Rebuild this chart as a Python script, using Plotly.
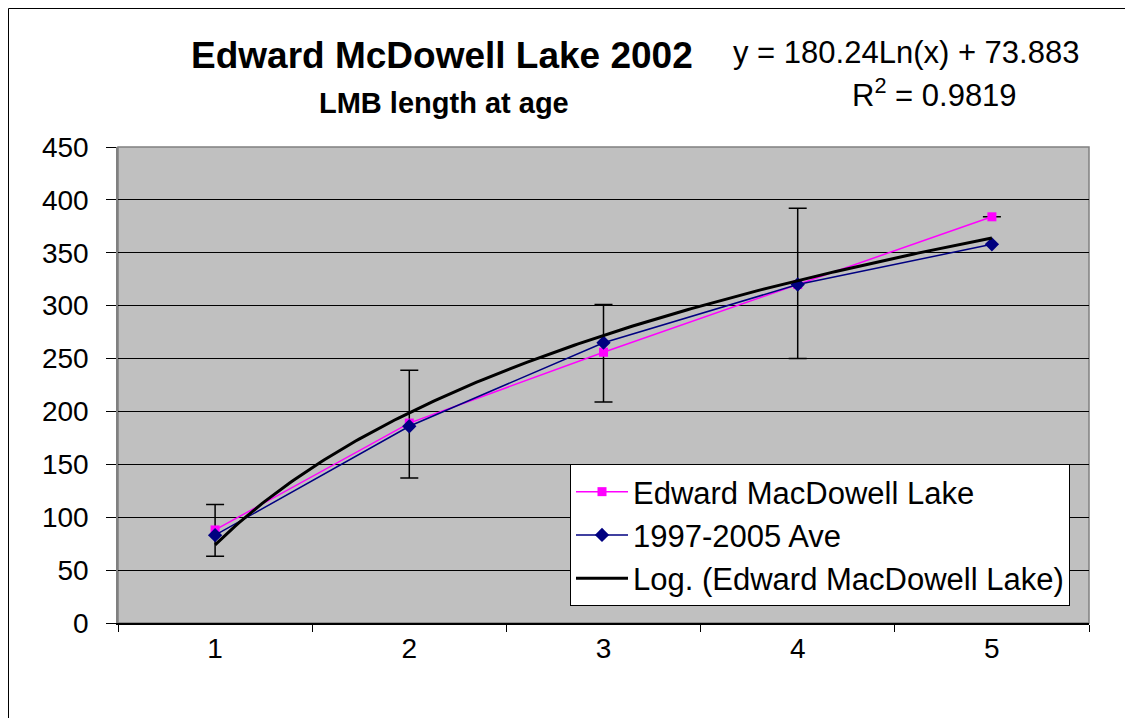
"""
Edward McDowell Lake 2002 - LMB length at age, recreated with Plotly.
"""
import numpy as np
import plotly.graph_objects as go

# data
ages = [1, 2, 3, 4, 5]
lake_2002 = [88, 189, 256, 320, 384]
ave_1997_2005 = [83, 186, 265, 320, 358]
err_plus = [24, 50, 45, 72, 0]
err_minus = [25, 52, 47, 70, 0]

# logarithmic trendline as printed on the chart
trend_a = 180.24
trend_b = 73.883
y_ticks = [0, 50, 100, 150, 200, 250, 300, 350, 400, 450]

FONT = "Liberation Sans, Arial, sans-serif"
OFF = 8  # page body margin

trend_x = np.linspace(1, 5, 200)
trend_y = trend_a * np.log(trend_x) + trend_b

fig = go.Figure()

fig.add_trace(go.Scatter(
    x=ages, y=lake_2002, mode="lines+markers",
    name="Edward MacDowell Lake",
    line=dict(color="#FF00FF", width=1.5),
    marker=dict(symbol="square", size=9, color="#FF00FF"),
    error_y=dict(type="data", array=err_plus, arrayminus=err_minus,
                 color="black", thickness=1.5, width=9),
))
fig.add_trace(go.Scatter(
    x=ages, y=ave_1997_2005, mode="lines+markers",
    name="1997-2005 Ave",
    line=dict(color="#000080", width=1.5),
    marker=dict(symbol="diamond", size=11, color="#000080"),
))
fig.add_trace(go.Scatter(
    x=trend_x, y=trend_y, mode="lines",
    name="Log. (Edward MacDowell Lake)",
    line=dict(color="black", width=3),
))

# plot area in page pixels: x 118..1089, y 147..623
FW, FH = 1133 - OFF, 718 - OFF
L, T = 118 - OFF, 147 - OFF
R, B = FW - (1089 - OFF), FH - (623 - OFF)
W, H = FW - L - R, FH - T - B


def px(x):
    return (x - OFF - L) / W


def py(y):
    return (FH - B - (y - OFF)) / H


fig.update_layout(
    width=FW, height=FH,
    margin=dict(l=L, r=R, t=T, b=B),
    paper_bgcolor="white",
    plot_bgcolor="#C0C0C0",
    font=dict(family=FONT, color="black", size=28),
    showlegend=True,
    legend=dict(
        x=px(570), y=py(464), xanchor="left", yanchor="top",
        bgcolor="white", bordercolor="black", borderwidth=1,
        font=dict(size=31, family=FONT), tracegroupgap=0,
        itemwidth=52,
    ),
    shapes=[
        dict(type="rect", xref="paper", yref="paper",
             x0=px(OFF + 0.5), x1=px(1300), y0=py(900), y1=py(OFF + 0.5),
             line=dict(color="black", width=1), fillcolor="rgba(0,0,0,0)",
             layer="below"),
        dict(type="rect", xref="paper", yref="paper",
             x0=0, x1=1, y0=0, y1=1,
             line=dict(color="#808080", width=1.5), fillcolor="rgba(0,0,0,0)",
             layer="below"),
    ],
    annotations=[
        dict(text="<b>Edward McDowell Lake 2002</b>", xref="paper", yref="paper",
             x=px(442), y=py(55), showarrow=False,
             font=dict(size=37), xanchor="center", yanchor="middle"),
        dict(text="<b>LMB length at age</b>", xref="paper", yref="paper",
             x=px(444), y=py(103), showarrow=False,
             font=dict(size=29), xanchor="center", yanchor="middle"),
        dict(text="y = 180.24Ln(x) + 73.883", xref="paper", yref="paper",
             x=px(1081), y=py(52), showarrow=False,
             font=dict(size=31), xanchor="right", yanchor="middle"),
        dict(text="R<sup>2</sup> = 0.9819", xref="paper", yref="paper",
             x=px(1019), y=py(93), showarrow=False,
             font=dict(size=31), xanchor="right", yanchor="middle"),
    ],
)

fig.update_xaxes(
    range=[0.5, 5.5], tickvals=ages, ticktext=[str(a) for a in ages],
    ticks="", showgrid=False, zeroline=False,
    showline=True, linecolor="black", linewidth=1.5,
    tickfont=dict(size=28),
    minor=dict(tick0=0.5, dtick=1, ticks="outside", ticklen=7,
               tickcolor="black", showgrid=False),
)
fig.update_yaxes(
    range=[0, 450], tickvals=y_ticks,
    ticks="outside", ticklen=10, tickcolor="black",
    showgrid=True, gridcolor="black", gridwidth=1, zeroline=False,
    showline=True, linecolor="#808080", linewidth=1.5,
    tickfont=dict(size=28), ticklabelstandoff=12,
)

fig.write_html("out.html")
